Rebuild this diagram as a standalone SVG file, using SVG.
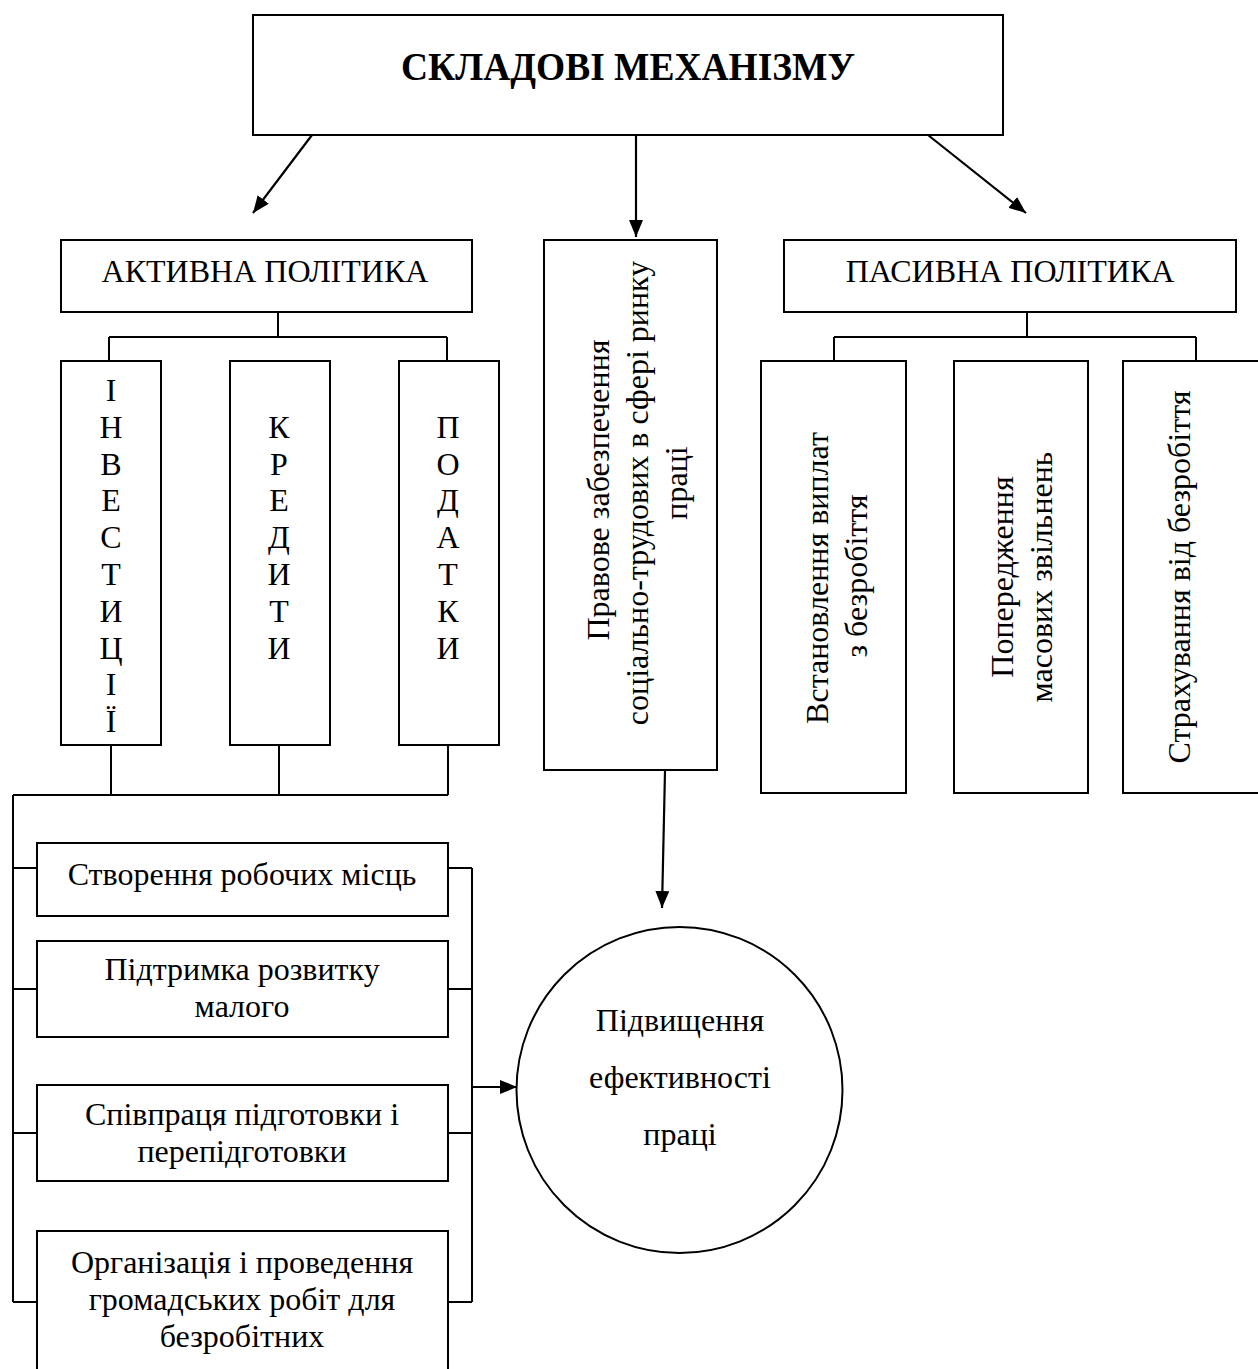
<svg xmlns="http://www.w3.org/2000/svg" width="1258" height="1369" viewBox="0 0 1258 1369">
<defs>
<marker id="ah" markerUnits="userSpaceOnUse" markerWidth="18" markerHeight="14" refX="17" refY="7" orient="auto">
<path d="M0,0 L17,7 L0,14 z" fill="#000"/>
</marker>
</defs>
<style>
.box{fill:#fff;stroke:#000;stroke-width:2}
.ln{fill:none;stroke:#000;stroke-width:2}
.arr{fill:none;stroke:#000;stroke-width:2.2;marker-end:url(#ah)}
text{font-family:"Liberation Serif","Times New Roman",serif;font-size:32px;fill:#000;text-anchor:middle}
.hd{font-size:32px}
.title{font-weight:bold;font-size:40px}
</style>
<rect width="1258" height="1369" fill="#fff"/>

<g id="connectors">
<path class="arr" d="M312,135 L253,213"/>
<path class="arr" d="M636,135 L636,237"/>
<path class="arr" d="M928,135 L1026,213"/>
<path class="ln" d="M278,312 V337 M109,337 H447 M109,337 V361 M447,337 V361"/>
<path class="ln" d="M1027,312 V337 M834,337 H1196 M834,337 V361 M1196,337 V361"/>
<path class="ln" d="M111,745 V795 M279,745 V795 M448,745 V795 M13,795 H448 M13,795 V1302"/>
<path class="ln" d="M13,868 H37 M13,989 H37 M13,1133 H37 M13,1302 H37"/>
<path class="ln" d="M448,868 H472 M448,989 H472 M448,1133 H472 M448,1302 H472 M472,868 V1302"/>
<path class="arr" d="M472,1087 H517"/>
<path class="arr" d="M665,771 L662,908"/>
</g>

<g id="n-top">
<rect class="box" x="253" y="15" width="750" height="120"/>
<text class="title" x="628" y="80" textLength="454" lengthAdjust="spacingAndGlyphs">СКЛАДОВІ МЕХАНІЗМУ</text>
</g>

<g id="n-active">
<rect class="box" x="61" y="240" width="411" height="72"/>
<text class="hd" x="265" y="282">АКТИВНА ПОЛІТИКА</text>
</g>

<g id="n-legal">
<rect class="box" x="544" y="240" width="173" height="530"/>
<text transform="translate(609,490) rotate(-90)">Правове забезпечення</text>
<text transform="translate(648,493) rotate(-90)">соціально-трудових в сфері ринку</text>
<text transform="translate(687,483) rotate(-90)">праці</text>
</g>

<g id="n-passive">
<rect class="box" x="784" y="240" width="452" height="72"/>
<text class="hd" x="1010" y="282">ПАСИВНА ПОЛІТИКА</text>
</g>

<g id="n-invest">
<rect class="box" x="61" y="361" width="100" height="384"/>
<text x="111" y="401">І<tspan x="111" dy="36.8">Н</tspan><tspan x="111" dy="36.8">В</tspan><tspan x="111" dy="36.8">Е</tspan><tspan x="111" dy="36.8">С</tspan><tspan x="111" dy="36.8">Т</tspan><tspan x="111" dy="36.8">И</tspan><tspan x="111" dy="36.8">Ц</tspan><tspan x="111" dy="36.8">І</tspan><tspan x="111" dy="36.8">Ї</tspan></text>
</g>

<g id="n-credit">
<rect class="box" x="230" y="361" width="100" height="384"/>
<text x="279" y="437.8">К<tspan x="279" dy="36.8">Р</tspan><tspan x="279" dy="36.8">Е</tspan><tspan x="279" dy="36.8">Д</tspan><tspan x="279" dy="36.8">И</tspan><tspan x="279" dy="36.8">Т</tspan><tspan x="279" dy="36.8">И</tspan></text>
</g>

<g id="n-tax">
<rect class="box" x="399" y="361" width="100" height="384"/>
<text x="448" y="437.8">П<tspan x="448" dy="36.8">О</tspan><tspan x="448" dy="36.8">Д</tspan><tspan x="448" dy="36.8">А</tspan><tspan x="448" dy="36.8">Т</tspan><tspan x="448" dy="36.8">К</tspan><tspan x="448" dy="36.8">И</tspan></text>
</g>

<g id="n-payments">
<rect class="box" x="761" y="361" width="145" height="432"/>
<text transform="translate(828,578) rotate(-90)">Встановлення виплат</text>
<text transform="translate(867,576) rotate(-90)">з безробіття</text>
</g>

<g id="n-warning">
<rect class="box" x="954" y="361" width="134" height="432"/>
<text transform="translate(1013,577) rotate(-90)">Попередження</text>
<text transform="translate(1052,577) rotate(-90)">масових звільнень</text>
</g>

<g id="n-insurance">
<rect class="box" x="1123" y="361" width="150" height="432"/>
<text transform="translate(1190,577) rotate(-90)">Страхування від безробіття</text>
</g>

<g id="n-jobs">
<rect class="box" x="37" y="843" width="411" height="73"/>
<text x="242" y="885">Створення робочих місць</text>
</g>

<g id="n-small">
<rect class="box" x="37" y="941" width="411" height="96"/>
<text x="242" y="980">Підтримка розвитку</text>
<text x="242" y="1017">малого</text>
</g>

<g id="n-training">
<rect class="box" x="37" y="1085" width="411" height="96"/>
<text x="242" y="1125">Співпраця підготовки і</text>
<text x="242" y="1162">перепідготовки</text>
</g>

<g id="n-public">
<rect class="box" x="37" y="1231" width="411" height="160"/>
<text x="242" y="1273">Організація і проведення</text>
<text x="242" y="1310">громадських робіт для</text>
<text x="242" y="1347">безробітних</text>
</g>

<g id="n-efficiency">
<circle class="box" cx="679.5" cy="1090" r="163"/>
<text x="680" y="1031">Підвищення</text>
<text x="680" y="1088">ефективності</text>
<text x="680" y="1145">праці</text>
</g>
</svg>
